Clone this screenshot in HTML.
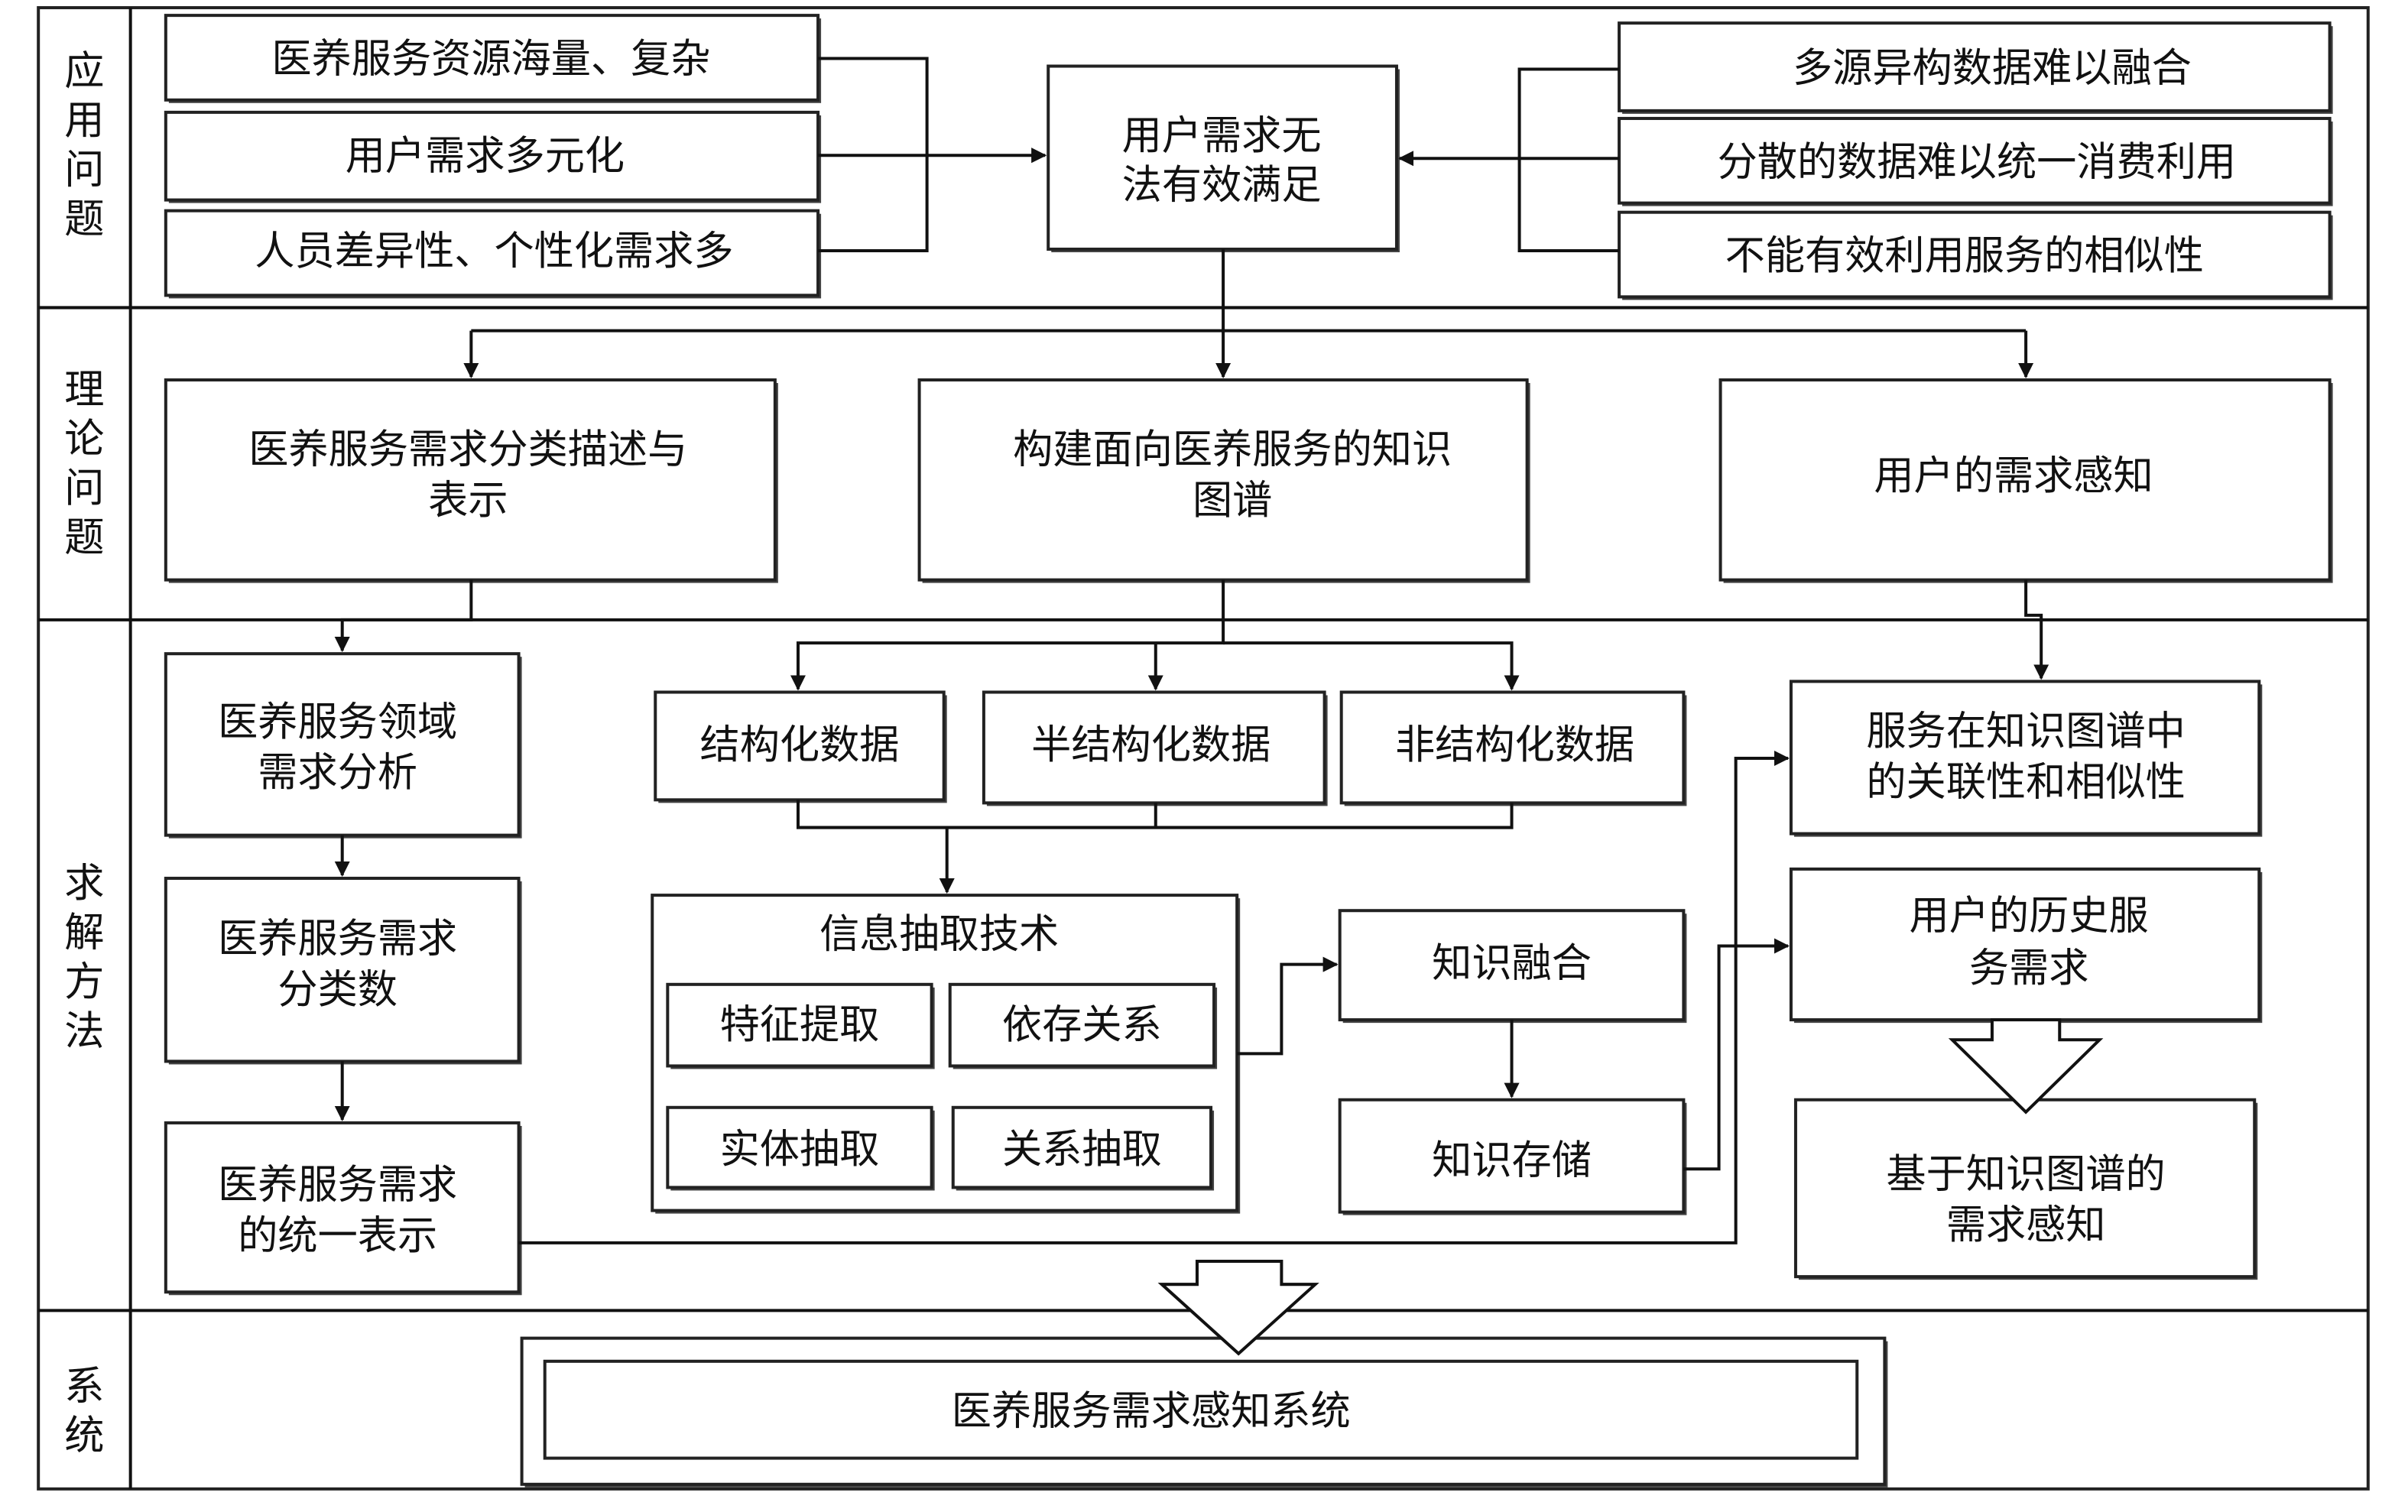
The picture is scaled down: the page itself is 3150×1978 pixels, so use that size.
<!DOCTYPE html>
<html><head><meta charset="utf-8"><style>
html,body{margin:0;padding:0;background:#fff;}
svg{display:block;}
text{font-family:"Liberation Sans","Noto Sans CJK SC",sans-serif;font-size:26px;fill:#111;text-anchor:middle;}
.b{fill:#fff;stroke:#222;stroke-width:2;}
.s{fill:#444;}
.l{fill:none;stroke:#111;stroke-width:2;}
</style></head><body>
<svg width="3150" height="1978" viewBox="0 0 1569 983" preserveAspectRatio="none" xmlns="http://www.w3.org/2000/svg">
<defs><marker id="a" markerWidth="10" markerHeight="10" refX="9" refY="5" orient="auto" markerUnits="userSpaceOnUse"><path d="M0,0 L10,5 L0,10 Z" fill="#111"/></marker></defs>
<rect x="25" y="5" width="1518" height="963" fill="none" stroke="#222" stroke-width="2"/>
<line x1="85" y1="5" x2="85" y2="968" class="l"/>
<line x1="25" y1="200" x2="1543" y2="200" class="l"/>
<line x1="25" y1="403" x2="1543" y2="403" class="l"/>
<line x1="25" y1="852" x2="1543" y2="852" class="l"/>
<g>
<text x="55" y="55">应</text><text x="55" y="87">用</text><text x="55" y="119">问</text><text x="55" y="151">题</text>
<text x="55" y="262">理</text><text x="55" y="294">论</text><text x="55" y="326">问</text><text x="55" y="358">题</text>
<text x="55" y="583">求</text><text x="55" y="615">解</text><text x="55" y="647">方</text><text x="55" y="679">法</text>
<text x="55" y="910">系</text><text x="55" y="942">统</text>
</g>
<g id="boxes">
<rect class="s" x="110" y="12" width="425" height="55"/><rect class="b" x="108" y="10" width="425" height="55"/><text x="320" y="47">医养服务资源海量、复杂</text>
<rect class="s" x="110" y="75" width="425" height="57"/><rect class="b" x="108" y="73" width="425" height="57"/><text x="316" y="110">用户需求多元化</text>
<rect class="s" x="110" y="139" width="425" height="55"/><rect class="b" x="108" y="137" width="425" height="55"/><text x="322" y="172">人员差异性、个性化需求多</text>
<rect class="s" x="685" y="45" width="227" height="119"/><rect class="b" x="683" y="43" width="227" height="119"/><text x="796" y="97">用户需求无</text><text x="796" y="129">法有效满足</text>
<rect class="s" x="1057" y="17" width="463" height="57"/><rect class="b" x="1055" y="15" width="463" height="57"/><text x="1298" y="53">多源异构数据难以融合</text>
<rect class="s" x="1057" y="79" width="463" height="55"/><rect class="b" x="1055" y="77" width="463" height="55"/><text x="1288" y="114">分散的数据难以统一消费利用</text>
<rect class="s" x="1057" y="140" width="463" height="55"/><rect class="b" x="1055" y="138" width="463" height="55"/><text x="1280" y="175">不能有效利用服务的相似性</text>

<rect class="s" x="110" y="249" width="397" height="130"/><rect class="b" x="108" y="247" width="397" height="130"/><text x="305" y="301">医养服务需求分类描述与</text><text x="305" y="334">表示</text>
<rect class="s" x="601" y="249" width="396" height="130"/><rect class="b" x="599" y="247" width="396" height="130"/><text x="803" y="301">构建面向医养服务的知识</text><text x="803" y="334">图谱</text>
<rect class="s" x="1123" y="249" width="397" height="130"/><rect class="b" x="1121" y="247" width="397" height="130"/><text x="1312" y="318">用户的需求感知</text>

<rect class="s" x="110" y="427" width="230" height="118"/><rect class="b" x="108" y="425" width="230" height="118"/><text x="220" y="478">医养服务领域</text><text x="220" y="511">需求分析</text>
<rect class="s" x="110" y="573" width="230" height="119"/><rect class="b" x="108" y="571" width="230" height="119"/><text x="220" y="619">医养服务需求</text><text x="220" y="652">分类数</text>
<rect class="s" x="110" y="732" width="230" height="110"/><rect class="b" x="108" y="730" width="230" height="110"/><text x="220" y="779">医养服务需求</text><text x="220" y="812">的统一表示</text>

<rect class="s" x="429" y="452" width="188" height="70"/><rect class="b" x="427" y="450" width="188" height="70"/><text x="521" y="493">结构化数据</text>
<rect class="s" x="643" y="452" width="222" height="72"/><rect class="b" x="641" y="450" width="222" height="72"/><text x="750" y="493">半结构化数据</text>
<rect class="s" x="876" y="452" width="223" height="72"/><rect class="b" x="874" y="450" width="223" height="72"/><text x="987" y="493">非结构化数据</text>

<rect class="s" x="427" y="584" width="381" height="205"/><rect class="b" x="425" y="582" width="381" height="205"/><text x="612" y="616">信息抽取技术</text>
<rect class="s" x="437" y="642" width="172" height="53"/><rect class="b" x="435" y="640" width="172" height="53"/><text x="521" y="675">特征提取</text>
<rect class="s" x="621" y="642" width="172" height="53"/><rect class="b" x="619" y="640" width="172" height="53"/><text x="705" y="675">依存关系</text>
<rect class="s" x="437" y="722" width="172" height="52"/><rect class="b" x="435" y="720" width="172" height="52"/><text x="521" y="756">实体抽取</text>
<rect class="s" x="623" y="722" width="168" height="52"/><rect class="b" x="621" y="720" width="168" height="52"/><text x="705" y="756">关系抽取</text>

<rect class="s" x="875" y="594" width="224" height="71"/><rect class="b" x="873" y="592" width="224" height="71"/><text x="985" y="635">知识融合</text>
<rect class="s" x="875" y="717" width="224" height="73"/><rect class="b" x="873" y="715" width="224" height="73"/><text x="985" y="763">知识存储</text>

<rect class="s" x="1169" y="445" width="305" height="99"/><rect class="b" x="1167" y="443" width="305" height="99"/><text x="1320" y="484">服务在知识图谱中</text><text x="1320" y="517">的关联性和相似性</text>
<rect class="s" x="1169" y="567" width="305" height="98"/><rect class="b" x="1167" y="565" width="305" height="98"/><text x="1322" y="604">用户的历史服</text><text x="1322" y="638">务需求</text>
<rect class="s" x="1172" y="717" width="299" height="115"/><rect class="b" x="1170" y="715" width="299" height="115"/><text x="1320" y="772">基于知识图谱的</text><text x="1320" y="805">需求感知</text>

<rect class="s" x="342" y="872" width="888" height="95"/><rect class="b" x="340" y="870" width="888" height="95"/>
<rect class="b" x="355" y="885" width="855" height="63"/><text x="750" y="926">医养服务需求感知系统</text>
</g>
<g>
<path class="l" d="M533,38 H604 V163 H533"/><path class="l" d="M533,101 H681" marker-end="url(#a)"/>
<path class="l" d="M1055,45 H990 V163 H1055"/><path class="l" d="M1055,103 H912" marker-end="url(#a)"/>
<path class="l" d="M797,162 V245" marker-end="url(#a)"/>
<path class="l" d="M307,215 H1320"/><path class="l" d="M307,215 V245" marker-end="url(#a)"/><path class="l" d="M1320,215 V245" marker-end="url(#a)"/>
<path class="l" d="M307,377 V403 H223 V423" marker-end="url(#a)"/>
<path class="l" d="M797,377 V418 H520 V448" marker-end="url(#a)"/><path class="l" d="M797,418 H985 V448" marker-end="url(#a)"/><path class="l" d="M753,418 V448" marker-end="url(#a)"/>
<path class="l" d="M1320,377 V400 H1330 V441" marker-end="url(#a)"/>
<path class="l" d="M223,543 V569" marker-end="url(#a)"/><path class="l" d="M223,690 V728" marker-end="url(#a)"/>
<path class="l" d="M520,520 V538 H985 V522"/><path class="l" d="M753,522 V538"/><path class="l" d="M617,538 V580" marker-end="url(#a)"/>
<path class="l" d="M806,685 H835 V627 H871" marker-end="url(#a)"/>
<path class="l" d="M985,663 V713" marker-end="url(#a)"/>
<path class="l" d="M1097,760 H1120 V615 H1165" marker-end="url(#a)"/>
<path class="l" d="M338,808 H1131 V493 H1165" marker-end="url(#a)"/>
<path d="M1298,676 V663 H1342 V676 H1368 L1320,723 L1272,676 Z" fill="#fff" stroke="#111" stroke-width="2"/>
<path d="M780,820 H835 V835 H857 L807,880 L757,835 H780 Z" fill="#fff" stroke="#111" stroke-width="2"/>
</g>
</svg>
</body></html>
